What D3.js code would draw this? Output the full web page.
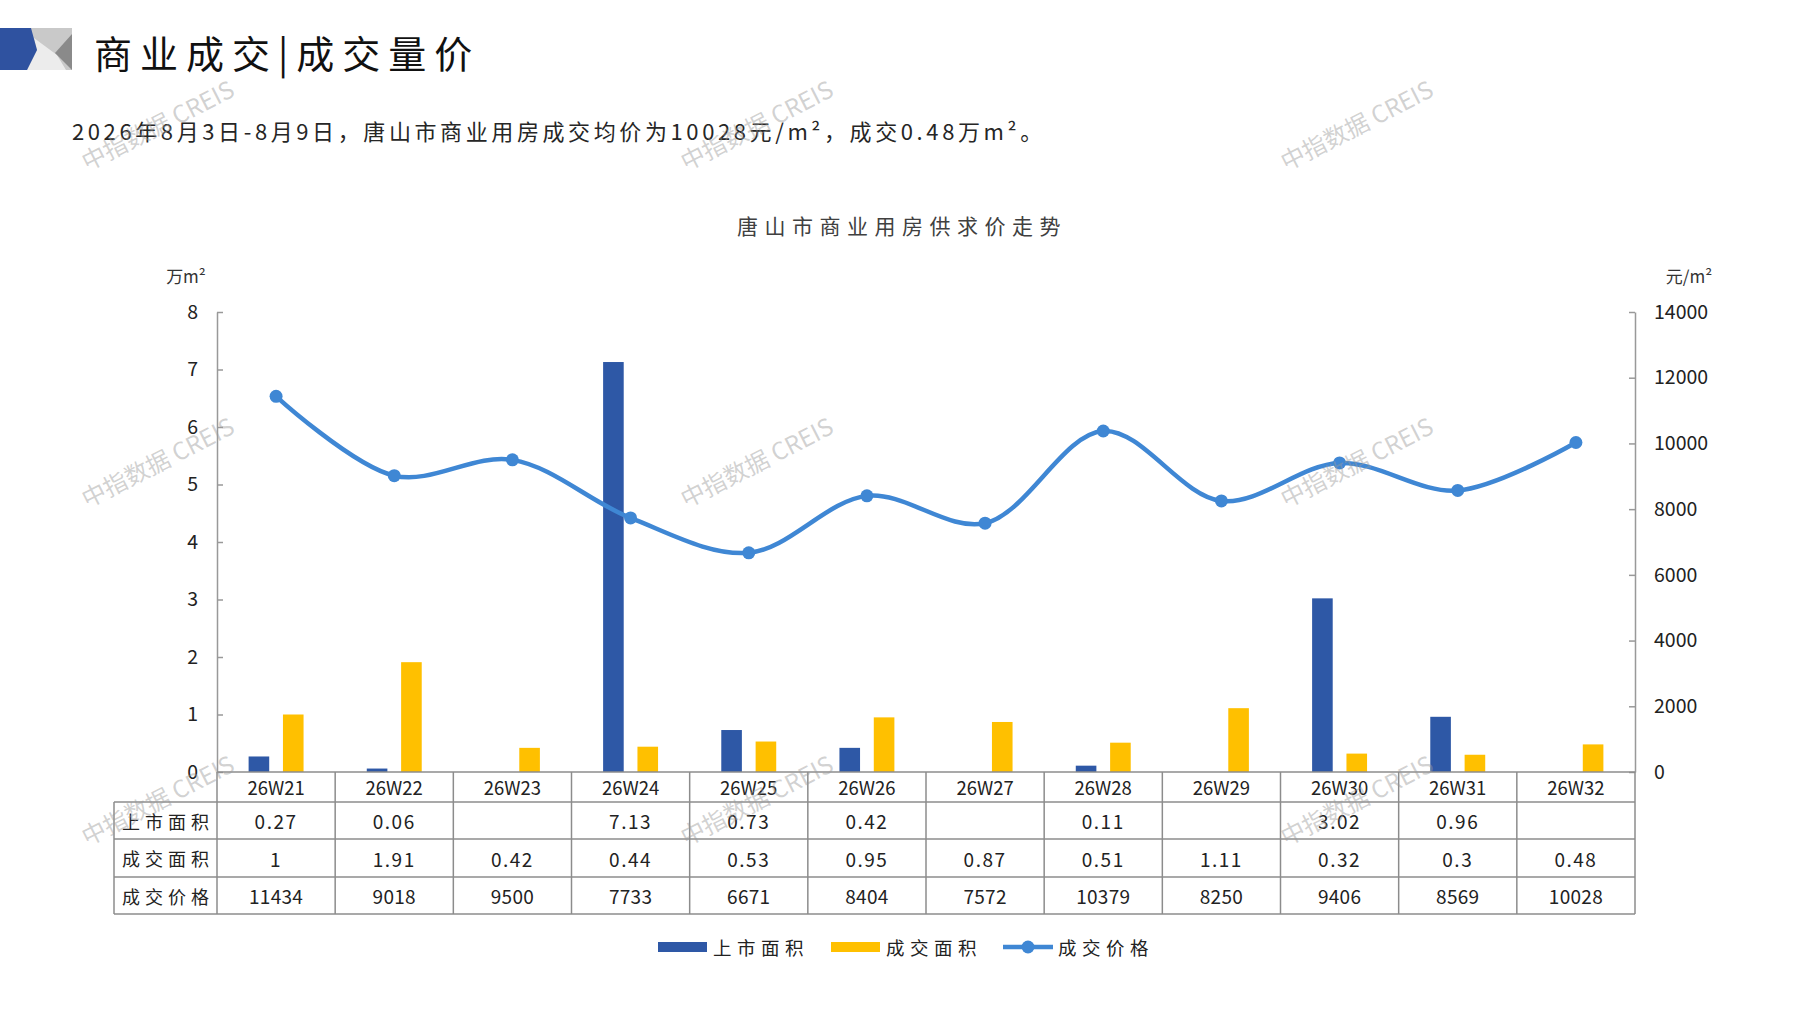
<!DOCTYPE html>
<html>
<head>
<meta charset="utf-8">
<script src="https://cdn.jsdelivr.net/npm/d3@7"></script>
<style>
body{margin:0;background:#fff;}
text{font-family:"Noto Sans CJK SC","Noto Sans",sans-serif;}
</style>
</head>
<body>
<svg id="canvas"></svg>
<script>
let weeks = ["26W21","26W22","26W23","26W24","26W25","26W26","26W27","26W28","26W29","26W30","26W31","26W32"];
let supplyArea = [0.27,0.06,null,7.13,0.73,0.42,null,0.11,null,3.02,0.96,null];
let dealArea = [1,1.91,0.42,0.44,0.53,0.95,0.87,0.51,1.11,0.32,0.3,0.48];
let dealPrice = [11434,9018,9500,7733,6671,8404,7572,10379,8250,9406,8569,10028];
let leftTicks = [0,1,2,3,4,5,6,7,8];
let rightTicks = [0,2000,4000,6000,8000,10000,12000,14000];
let seriesNames = ["上市面积","成交面积","成交价格"];
let colors = ["#2E58A6","#FFC000","#3F87D4"];

let width = 1797;
let height = 1010;
let plotLeft = 217, plotRight = 1635, plotTop = 312, plotBottom = 772;
let rowEdges = [772,802,839,877,914];
let labelLeft = 114;

let canvas = d3.select("#canvas");
canvas.attr("width",width).attr("height",height);

// header
let head = canvas.append("g");
head.append("rect").attr("x",0).attr("y",28).attr("width",72).attr("height",42).attr("fill","#C9C9C9");
head.append("polygon").attr("points","34,38 57,55 66,70 27,70 37,50").attr("fill","#ECECEC");
head.append("polygon").attr("points","0,28 31,28 37,50 27,70 0,70").attr("fill","#2F52A0");
head.append("polygon").attr("points","72,34 55,53 72,70").attr("fill","#8A8A8A");
head.append("text").attr("x",94).attr("y",51).attr("dominant-baseline","central")
    .attr("font-size",38).attr("letter-spacing",8).attr("fill","#111")
    .text("商业成交|成交量价");

canvas.append("text").attr("x",72).attr("y",130).attr("dominant-baseline","central")
    .attr("font-size",22).attr("letter-spacing",3.6).attr("fill","#262626")
    .text("2026年8月3日-8月9日，唐山市商业用房成交均价为10028元/m²，成交0.48万m²。");

canvas.append("text").attr("x",902).attr("y",225).attr("dominant-baseline","central")
    .attr("text-anchor","middle").attr("font-size",21).attr("letter-spacing",6.5).attr("fill","#404040")
    .text("唐山市商业用房供求价走势");

canvas.append("text").attr("x",186).attr("y",275).attr("dominant-baseline","central")
    .attr("text-anchor","middle").attr("font-size",17).attr("fill","#333").text("万m²");
canvas.append("text").attr("x",1689).attr("y",275).attr("dominant-baseline","central")
    .attr("text-anchor","middle").attr("font-size",17).attr("fill","#333").text("元/m²");

// scales
let xScale = d3.scaleBand().domain(weeks).range([plotLeft,plotRight]).paddingInner(0.535).paddingOuter(0.2675);
let xInner = d3.scaleBand().domain([0,1]).range([0,xScale.bandwidth()]).paddingInner(0.4);
let yLeft = d3.scaleLinear().domain([0,8]).range([plotBottom,plotTop]);
let yRight = d3.scaleLinear().domain([0,14000]).range([plotBottom,plotTop]);
let xCenter = d3.scaleBand().domain(weeks).range([plotLeft,plotRight]);

// bars
let barSeries = [supplyArea,dealArea];
barSeries.forEach((vals,s)=>{
    canvas.append("g").selectAll("rect")
        .data(weeks.map((w,i)=>({w:w,v:vals[i]})).filter(d=>d.v!=null))
        .enter()
        .append("rect")
        .attr("x",d=>xScale(d.w)+xInner(s))
        .attr("width",xInner.bandwidth())
        .attr("y",d=>yLeft(d.v))
        .attr("height",d=>yLeft(0)-yLeft(d.v))
        .attr("fill",colors[s]);
});

// axes
let axisStyle = (g)=>{
    g.selectAll(".domain").attr("stroke","#999").attr("stroke-width",1.5);
    g.selectAll(".tick line").attr("stroke","#999").attr("stroke-width",1.5);
    g.selectAll(".tick text").attr("font-family","'Liberation Sans',Arial,sans-serif")
        .attr("font-size",19.5).attr("fill","#222");
};
canvas.append("g")
    .attr("transform","translate("+plotLeft+",0)")
    .call(d3.axisLeft(yLeft).tickValues(leftTicks).tickSizeInner(-6).tickSizeOuter(0).tickPadding(19))
    .call(axisStyle);
canvas.append("g")
    .attr("transform","translate("+plotRight+",0)")
    .call(d3.axisRight(yRight).tickValues(rightTicks).tickFormat(d3.format("d"))
        .tickSizeInner(-6).tickSizeOuter(0).tickPadding(19))
    .call(axisStyle);

// price line
let priceLine = d3.line()
    .x((d,i)=>xCenter(weeks[i])+xCenter.bandwidth()/2)
    .y(d=>yRight(d))
    .curve(d3.curveCatmullRom);
canvas.append("path").attr("d",priceLine(dealPrice))
    .attr("fill","none").attr("stroke",colors[2]).attr("stroke-width",4.5);
canvas.append("g").selectAll("circle")
    .data(dealPrice)
    .enter()
    .append("circle")
    .attr("cx",(d,i)=>xCenter(weeks[i])+xCenter.bandwidth()/2)
    .attr("cy",d=>yRight(d))
    .attr("r",6.5)
    .attr("fill",colors[2]);

// data table
let grid = canvas.append("g").attr("stroke","#8C8C8C").attr("stroke-width",1.5);
grid.append("line").attr("x1",plotLeft).attr("x2",plotRight).attr("y1",rowEdges[0]).attr("y2",rowEdges[0]);
rowEdges.slice(1).forEach(y=>{
    grid.append("line").attr("x1",labelLeft).attr("x2",plotRight).attr("y1",y).attr("y2",y);
});
grid.append("line").attr("x1",labelLeft).attr("x2",labelLeft).attr("y1",rowEdges[1]).attr("y2",rowEdges[4]);
grid.selectAll(".vline")
    .data(weeks.concat(["end"]))
    .enter()
    .append("line")
    .attr("x1",(d,i)=>plotLeft+i*xCenter.step())
    .attr("x2",(d,i)=>plotLeft+i*xCenter.step())
    .attr("y1",rowEdges[0]).attr("y2",rowEdges[4]);

let rowMid = (r)=>(rowEdges[r]+rowEdges[r+1])/2;
canvas.append("g").selectAll("text")
    .data(weeks)
    .enter()
    .append("text")
    .attr("x",d=>xCenter(d)+xCenter.bandwidth()/2)
    .attr("y",rowMid(0))
    .attr("text-anchor","middle").attr("dominant-baseline","central")
    .attr("font-size",18.5).attr("fill","#222")
    .text(d=>d);

let rows = [supplyArea,dealArea,dealPrice];
rows.forEach((vals,r)=>{
    canvas.append("text")
        .attr("x",(labelLeft+plotLeft)/2+2.5).attr("y",rowMid(r+1))
        .attr("text-anchor","middle").attr("dominant-baseline","central")
        .attr("font-size",18).attr("letter-spacing",5).attr("fill","#222")
        .text(seriesNames[r]);
    canvas.append("g").selectAll("text")
        .data(vals)
        .enter()
        .append("text")
        .attr("x",(d,i)=>xCenter(weeks[i])+xCenter.bandwidth()/2)
        .attr("y",rowMid(r+1))
        .attr("text-anchor","middle").attr("dominant-baseline","central")
        .attr("font-size",19).attr("letter-spacing",r<2?1.5:0.3).attr("fill","#222")
        .text(d=>d==null?"":d);
});

// legend
let legend = canvas.append("g").attr("transform","translate(658,947)");
let legendX = [0,173,345];
seriesNames.forEach((name,i)=>{
    let g = legend.append("g").attr("transform","translate("+legendX[i]+",0)");
    if(i<2){
        g.append("rect").attr("x",0).attr("y",-5).attr("width",49).attr("height",10).attr("fill",colors[i]);
    }else{
        g.append("line").attr("x1",0).attr("x2",50).attr("y1",0).attr("y2",0)
            .attr("stroke",colors[2]).attr("stroke-width",4.5);
        g.append("circle").attr("cx",25).attr("cy",0).attr("r",6.5).attr("fill",colors[2]);
    }
    g.append("text").attr("x",55).attr("y",0).attr("dominant-baseline","central")
        .attr("font-size",18.5).attr("letter-spacing",5.5).attr("fill","#222").text(name);
});

// watermarks
let markX = [157,756,1356];
let markY = [124,461,799];
let marks = canvas.append("g");
markY.forEach(y=>markX.forEach(x=>{
    marks.append("text")
        .attr("transform","translate("+x+","+y+") rotate(-27)")
        .attr("text-anchor","middle").attr("dominant-baseline","central")
        .attr("font-size",24).attr("fill","#9A9A9A").attr("fill-opacity",0.45)
        .text("中指数据 CREIS");
}));
</script>
</body>
</html>
